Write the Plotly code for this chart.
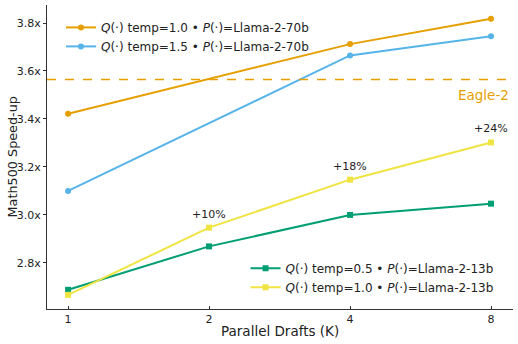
import math
import plotly.graph_objects as go

drafts_70b = [1, 4, 8]
drafts_13b = [1, 2, 4, 8]
q10_70b = [3.422, 3.712, 3.818]
q15_70b = [3.100, 3.665, 3.745]
q05_13b = [2.688, 2.869, 3.000, 3.047]
q10_13b = [2.667, 2.947, 3.147, 3.302]
gain_x = [2, 4, 8]
gain_txt = ['+10%', '+18%', '+24%']
eagle2 = 3.564
yticks = [2.8, 3.0, 3.2, 3.4, 3.6, 3.8]
xticks = [1, 2, 4, 8]

ORANGE, BLUE, GREEN, YELLOW = '#E69F00', '#56B4E9', '#009E73', '#F0E442'
FONT = 'DejaVu Sans'

fig = go.Figure()
fig.add_trace(go.Scatter(x=drafts_70b, y=q10_70b, mode='lines+markers',
                         line=dict(color=ORANGE, width=2), marker=dict(size=6, symbol='circle'),
                         name='<i>Q</i>(·) temp=1.0 • <i>P</i>(·)=Llama-2-70b', legend='legend'))
fig.add_trace(go.Scatter(x=drafts_70b, y=q15_70b, mode='lines+markers',
                         line=dict(color=BLUE, width=2), marker=dict(size=6, symbol='circle'),
                         name='<i>Q</i>(·) temp=1.5 • <i>P</i>(·)=Llama-2-70b', legend='legend'))
fig.add_trace(go.Scatter(x=drafts_13b, y=q05_13b, mode='lines+markers',
                         line=dict(color=GREEN, width=2), marker=dict(size=6, symbol='square'),
                         name='<i>Q</i>(·) temp=0.5 • <i>P</i>(·)=Llama-2-13b', legend='legend2'))
fig.add_trace(go.Scatter(x=drafts_13b, y=q10_13b, mode='lines+markers',
                         line=dict(color=YELLOW, width=2), marker=dict(size=6, symbol='square'),
                         name='<i>Q</i>(·) temp=1.0 • <i>P</i>(·)=Llama-2-13b', legend='legend2'))

fig.add_hline(y=eagle2, line=dict(color=ORANGE, width=1.5, dash='dash'))
fig.add_annotation(x=0.995, xref='paper', y=eagle2, yref='y', text='Eagle-2', showarrow=False,
                   xanchor='right', yanchor='top', yshift=-5,
                   font=dict(color=ORANGE, size=13.5, family=FONT))

# Gain labels over the temp=1.0 13b line (log axis -> annotation x in log10).
for x, t in zip(gain_x, gain_txt):
    y = q10_13b[drafts_13b.index(x)]
    fig.add_annotation(x=math.log10(x), y=y, text=t, showarrow=False, yanchor='bottom', yshift=5,
                       font=dict(size=11, color='#222', family=FONT))

# Axis titles as annotations for exact placement.
fig.add_annotation(x=0.5, xref='paper', y=0, yref='paper', text='Parallel Drafts (K)',
                   showarrow=False, yanchor='middle', yshift=-22,
                   font=dict(size=13.5, color='#222', family=FONT))
fig.add_annotation(x=0, xref='paper', y=0.5, yref='paper', text='Math500 Speed-up',
                   showarrow=False, textangle=-90, xanchor='center', xshift=-35.5,
                   font=dict(size=12.8, color='#222', family=FONT))

fig.update_layout(
    width=518, height=344, margin=dict(l=47, r=5, t=5, b=35),
    plot_bgcolor='white', paper_bgcolor='white',
    font=dict(family=FONT, size=12, color='#222'),
    legend=dict(x=0.03, y=0.974, xanchor='left', yanchor='top', bgcolor='rgba(0,0,0,0)',
                font=dict(size=12), tracegroupgap=0, itemwidth=30),
    legend2=dict(x=0.969, y=0.024, xanchor='right', yanchor='bottom', bgcolor='rgba(0,0,0,0)',
                 font=dict(size=12), tracegroupgap=0, itemwidth=30),
    xaxis=dict(type='log', range=[-0.045, 0.950], tickvals=xticks, ticktext=[str(v) for v in xticks],
               showgrid=False, zeroline=False, showline=True, linecolor='#333', linewidth=1,
               ticks='inside', ticklen=3, tickcolor='#333', tickfont=dict(size=11), automargin=False),
    yaxis=dict(range=[2.608, 3.875], tickvals=yticks, ticktext=[f'{v:.1f}x' for v in yticks],
               showgrid=False, zeroline=False, showline=True, linecolor='#333', linewidth=1,
               ticks='outside', ticklen=3, tickcolor='#333', tickfont=dict(size=11), automargin=False),
)
# Drop the page's default body margin so the figure sits at the window corner.
fig.write_html("out.html", config={'displayModeBar': False},
               post_script="document.body.style.margin='0px';")
